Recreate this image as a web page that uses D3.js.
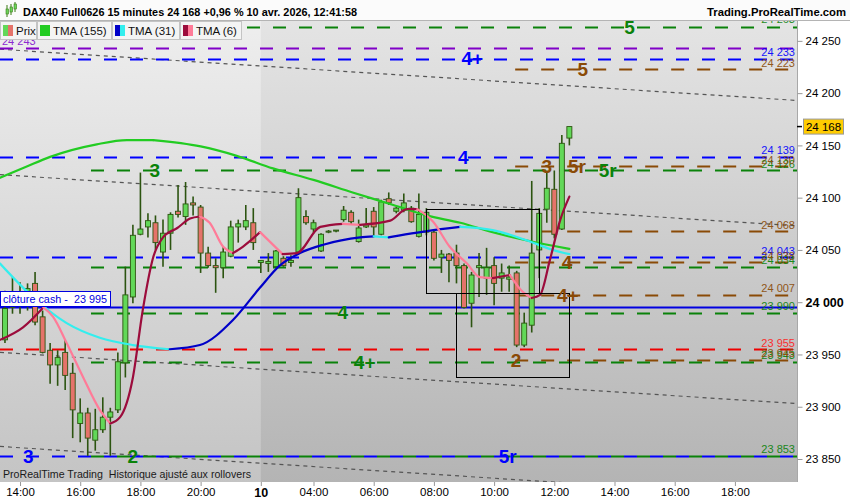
<!DOCTYPE html>
<html>
<head>
<meta charset="utf-8">
<script src="https://cdnjs.cloudflare.com/ajax/libs/d3/7.8.5/d3.min.js"></script>
<style>
  body { margin: 0; background: #fff; }
  svg { display: block; font-family: "Liberation Sans", Arial, sans-serif; }
</style>
</head>
<body>
<div class="chart"></div>
<script>
// 15 min bars, slot 0 = 14:00 on the 9th, overnight gap removed
const candleSlot = d3.range(-2, 74);
const open = [23964,23995,23998,24009,24018,23986,23954,23940,23952,23932,
  23884,23894,23868,23878,23890,23897,23942,24005,24065,24072,
  24076,24048,24066,24087,24082,24095,24091,24047,24035,24033,
  24044,24072,24072,24076,24038,24037,24034,24042,24038,24048,
  24082,24070,24049,24067,24068,24079,24086,24058,24072,24087,
  24065,24099,24087,24088,24090,24063,24067,24067,24043,24046,
  24047,24035,23999,24033,24023,24035,24023,24022,24028,23959,
  23978,24050,24089,24108,24070,24157];
const high = [24011,24024,24019,24018,24029,23992,23961,23954,23964,23942,
  23908,23899,23898,23909,23899,23952,24034,24074,24124,24085,
  24083,24079,24086,24112,24115,24101,24093,24053,24042,24053,
  24078,24079,24093,24090,24040,24047,24050,24044,24045,24109,
  24088,24079,24066,24069,24069,24092,24088,24079,24090,24091,
  24098,24105,24091,24104,24092,24104,24090,24069,24050,24047,
  24055,24037,24029,24047,24052,24043,24037,24035,24030,23990,
  24116,24090,24126,24126,24160,24168];
const low = [23961,23989,23989,23992,23978,23951,23922,23920,23916,23870,
  23866,23853,23858,23875,23853,23894,23928,23999,24064,24062,
  24050,24034,24050,24081,24074,24083,24028,24033,24009,24023,
  24043,24057,24069,24050,24028,24029,24033,24034,24034,24047,
  24074,24066,24048,24066,24067,24077,24074,24057,24071,24064,
  24064,24093,24085,24086,24076,24062,24064,24040,24028,24019,
  24018,23994,23976,24005,24007,23997,24010,24010,23957,23957,
  23971,24023,24076,24061,24069,24150];
const close = [23994,24005,24008,24013,23981,23952,23940,23947,23930,23897,
  23894,23870,23878,23890,23895,23943,24007,24064,24070,24078,
  24057,24066,24084,24084,24094,24093,24047,24035,24033,24048,
  24072,24075,24078,24057,24040,24039,24049,24035,24040,24100,
  24076,24076,24065,24068,24069,24088,24077,24071,24074,24072,
  24096,24095,24090,24095,24077,24084,24086,24042,24046,24040,
  24035,23995,24026,24035,24033,24018,24028,24024,23959,23980,
  24047,24085,24109,24065,24152,24168];

// moving averages (read at chosen slots)
const tma155Slot = [-2.66,0.66,4,10.2,14.2,17.7,24,28.8,33.6,39,44.2,49.6,54,58.5,62.8,67.4,73];
const tma155 = [24119,24129,24139,24151,24155,24155,24149,24140,24128,24117,24105,24093,24083,24076,24067,24059,24051];
const tma31Slot = [-2.66,1.7,6.2,10.6,15,19.9,23.9,28.3,31.9,34.5,37.2,40.3,45.2,47,49,50.5,54.1,58.5,62.8,67.4,70.8,73];
const tma31 = [24037,24005,23980,23966,23959,23955,23959,23983,24014,24035,24047,24055,24062,24063,24062,24064,24068,24072,24069,24059,24050,24046];
const tma6Slot = [-2.66,0.4,3.1,4.4,6.2,8.4,10.6,12,13.3,15,16.3,17.7,19,20.9,22.6,23.9,25.2,27,28.3,29.6,
  31.9,34.9,36.8,39.9,42.9,45.2,49.2,51.4,52.8,54.9,57.1,59.4,61.1,62.8,65.1,66.8,68,69.1,70.4,71.8,73];
const tma6 = [23964,23976,23995,23986,23961,23928,23897,23884,23890,23928,23992,24043,24062,24071,24080,24082,24076,24053,24047,24053,
  24067,24046,24047,24072,24075,24074,24078,24089,24089,24077,24053,24037,24024,24023,24026,24010,24004,24007,24040,24079,24101];

// horizontal levels
const greenLevels = [24263, 24126, 24034, 23990, 23943, 23853];
const blueLevels = [24233, 24139, 24043, 23853];
const brownLevels = [24223, 24130, 24068, 24038, 24007, 23945];
const purpleLevels = [24243];
const redLevels = [23955];
const cashClose = 23995;
const greenFrom = 9, brownFrom = 65.8;

// wave labels
const waveText = ["5","4+","5","4","3","3","5r","5r","4","4+","4","4+","2","3","2","5r"];
const waveKind = ["green","blue","brown","blue","green","brown","brown","green","brown","brown","green","green","brown","blue","green","blue"];
const waveSlot = [81,60.1,74.8,58.9,17.9,70,74,78.1,72.7,72.8,42.9,45.8,65.9,1.1,15,64.8];
const wavePrice = [24263,24233,24223,24139,24126,24130,24130,24126,24038,24007,23990,23943,23945,23853,23853,23853];

// channel lines (price at left edge and right edge)
const channelSlots = [-2.66, 103.25];
const channelStart = [24242, 24122, 23952, 23862];
const channelEnd = [24193, 24073, 23903, 23813];

// boxes
const boxFrom = [54, 58], boxTo = [69, 73];
const boxTop = [24089, 24009], boxBottom = [24009, 23929];

// axes
const xTickSlots = [0, 8, 16, 24, 32, 39, 47, 55, 63, 71, 79, 87, 95];
const xTickLabels = ["14:00","16:00","18:00","20:00","10","04:00","06:00","08:00","10:00","12:00","14:00","16:00","18:00"];
const yTicks = [23850, 23900, 23950, 24000, 24050, 24100, 24150, 24200, 24250];

const colors = {green: "#0a820a", blue: "#0000ff", brown: "#8a4a06", purple: "#8000c8", red: "#ee0000"};

const plotR = 797, plotT = 21, plotB = 482;
const x = d3.scaleLinear().domain([-2.66, 103.25]).range([0, plotR]);
const y = d3.scaleLinear().domain([23828, 24269]).range([plotB, plotT]);
const fmt = v => { const s = String(Math.round(v)); return s.slice(0, 2) + " " + s.slice(2); };

const svg = d3.select('.chart').append('svg')
  .attr('width', 850).attr('height', 500);
const defs = svg.append('defs');

function grad(id, c0, c1) {
  const g = defs.append('linearGradient').attr('id', id)
    .attr('x1', 0).attr('y1', 0).attr('x2', 0).attr('y2', 1);
  g.append('stop').attr('offset', '0%').attr('stop-color', c0);
  g.append('stop').attr('offset', '100%').attr('stop-color', c1);
}
grad('bgR', '#e4e4e4', '#b4b4b4');
grad('bgL', '#eeeeee', '#c4c4c4');
defs.append('clipPath').attr('id', 'clip')
  .append('rect').attr('x', 0).attr('y', plotT).attr('width', plotR).attr('height', plotB - plotT);

// title bar
svg.append('rect').attr('x', 0).attr('y', 0).attr('width', 850).attr('height', plotT).attr('fill', '#fbfbfb');
svg.append('line').attr('x1', 0).attr('x2', 850).attr('y1', 20.5).attr('y2', 20.5).attr('stroke', '#b4b4b4');
const icon = svg.append('g');
[[6, 9, 14, 5, 17], [10, 7, 12, 4, 15], [14, 4, 9, 2, 12]].forEach(c => {
  icon.append('line').attr('x1', c[0] + 1).attr('x2', c[0] + 1).attr('y1', c[3]).attr('y2', c[4]).attr('stroke', '#3a7a14');
  icon.append('rect').attr('x', c[0]).attr('y', c[1]).attr('width', 2.5).attr('height', c[2] - c[1])
    .attr('fill', '#6ad45a').attr('stroke', '#3a7a14').attr('stroke-width', 0.6);
});
svg.append('text').attr('x', 23).attr('y', 15.5)
  .attr('font-size', '11.5px').attr('font-weight', 'bold').attr('fill', '#000')
  .attr('textLength', 334).attr('lengthAdjust', 'spacingAndGlyphs')
  .text('DAX40 Full0626 15 minutes 24 168 +0,96 % 10 avr. 2026, 12:41:58');
svg.append('text').attr('x', 846).attr('y', 15.5).attr('text-anchor', 'end')
  .attr('font-size', '11.5px').attr('font-weight', 'bold').attr('fill', '#000')
  .attr('textLength', 139).attr('lengthAdjust', 'spacingAndGlyphs')
  .text('Trading.ProRealTime.com');

// plot background
svg.append('rect').attr('x', 0).attr('y', plotT).attr('width', plotR).attr('height', plotB - plotT).attr('fill', 'url(#bgR)');
svg.append('rect').attr('x', 0).attr('y', plotT).attr('width', x(32)).attr('height', plotB - plotT).attr('fill', 'url(#bgL)');

const g = svg.append('g').attr('clip-path', 'url(#clip)');

// channel lines
channelStart.forEach((p, i) => {
  g.append('line')
    .attr('x1', x(channelSlots[0])).attr('y1', y(p))
    .attr('x2', x(channelSlots[1])).attr('y2', y(channelEnd[i]))
    .attr('stroke', '#555').attr('stroke-width', 1.2).attr('stroke-dasharray', '4,4');
});

// level lines
const levels = [].concat(
  redLevels.map(v => ({v, kind: 'red', from: -2.66})),
  purpleLevels.map(v => ({v, kind: 'purple', from: -2.66})),
  brownLevels.map(v => ({v, kind: 'brown', from: brownFrom})),
  blueLevels.map(v => ({v, kind: 'blue', from: -2.66})),
  greenLevels.map(v => ({v, kind: 'green', from: greenFrom}))
);
g.selectAll('.level').data(levels).enter().append('line')
  .attr('class', 'level')
  .attr('x1', d => x(d.from)).attr('x2', plotR)
  .attr('y1', d => Math.round(y(d.v)) + 0.5).attr('y2', d => Math.round(y(d.v)) + 0.5)
  .attr('stroke', d => colors[d.kind]).attr('stroke-width', 2.2)
  .attr('stroke-dasharray', '13,13')
  .attr('stroke-dashoffset', d => d.kind === 'green' ? (((x(d.from) - 13) % 26) + 26) % 26 : 0);

// cash close
g.append('line').attr('x1', 0).attr('x2', plotR)
  .attr('y1', Math.round(y(cashClose)) + 0.5).attr('y2', Math.round(y(cashClose)) + 0.5)
  .attr('stroke', '#0000e0').attr('stroke-width', 2);

// candles
const bars = candleSlot.map((s, i) => ({s, o: open[i], h: high[i], l: low[i], c: close[i]}));
const cg = g.append('g');
cg.selectAll('.wick').data(bars).enter().append('line')
  .attr('x1', d => x(d.s)).attr('x2', d => x(d.s))
  .attr('y1', d => y(d.h)).attr('y2', d => y(d.l))
  .attr('stroke', '#2c5410').attr('stroke-width', 1.6);
cg.selectAll('.body').data(bars).enter().append('rect')
  .attr('x', d => x(d.s) - 2.5).attr('width', 5)
  .attr('y', d => y(Math.max(d.o, d.c)))
  .attr('height', d => Math.max(1, Math.abs(y(d.o) - y(d.c))))
  .attr('fill', d => d.c >= d.o ? '#62d858' : '#e5736a')
  .attr('stroke', '#2c5410').attr('stroke-width', 0.9);

// moving averages, coloured by direction
function runs(xs, vs) {
  const out = [];
  for (let i = 1; i < xs.length; i++) {
    const up = vs[i] >= vs[i - 1];
    const last = out[out.length - 1];
    if (last && last.up === up) last.pts.push([xs[i], vs[i]]);
    else out.push({up, pts: [[xs[i - 1], vs[i - 1]], [xs[i], vs[i]]]});
  }
  return out;
}
const line = d3.line().x(d => x(d[0])).y(d => y(d[1])).curve(d3.curveMonotoneX);
function drawMA(xs, vs, upColor, downColor) {
  runs(xs, vs).forEach(r => {
    g.append('path').attr('d', line(r.pts)).attr('fill', 'none')
      .attr('stroke', r.up ? upColor : downColor).attr('stroke-width', 2.2)
      .attr('stroke-linecap', 'round');
  });
}
drawMA(tma155Slot, tma155, '#22cc22', '#22cc22');
drawMA(tma31Slot, tma31, '#0000c8', '#33eeee');
drawMA(tma6Slot, tma6, '#9c0c3c', '#ff7b98');

// boxes
boxFrom.forEach((s, i) => {
  g.append('rect')
    .attr('x', Math.round(x(s)) + 0.5).attr('y', Math.round(y(boxTop[i])) + 0.5)
    .attr('width', Math.round(x(boxTo[i]) - x(s)))
    .attr('height', Math.round(y(boxBottom[i]) - y(boxTop[i])))
    .attr('fill', 'none').attr('stroke', '#000').attr('stroke-width', 1);
});

// right-side level values
const tags = [].concat(
  greenLevels.map(v => ({v, kind: 'green'})),
  blueLevels.slice(0, 3).map(v => ({v, kind: 'blue'})),
  brownLevels.map(v => ({v, kind: 'brown'})),
  redLevels.map(v => ({v, kind: 'red'}))
);
g.selectAll('.tag').data(tags).enter().append('text')
  .attr('x', 795).attr('y', d => y(d.v) - (d.v === greenLevels[0] ? 4 : 2.5))
  .attr('text-anchor', 'end').attr('font-size', '11px')
  .attr('fill', d => colors[d.kind] === '#ee0000' ? '#ff2020' : colors[d.kind])
  .attr('opacity', 0.9)
  .text(d => fmt(d.v));
g.append('text').attr('x', 2).attr('y', y(purpleLevels[0]) - 3)
  .attr('font-size', '11px').attr('fill', '#8c2ad0').text(fmt(purpleLevels[0]));

// wave labels
g.selectAll('.wave').data(waveText).enter().append('text')
  .attr('x', (d, i) => x(waveSlot[i])).attr('y', (d, i) => y(wavePrice[i]))
  .attr('dy', '0.36em').attr('text-anchor', 'middle')
  .attr('font-size', '19px').attr('font-weight', 'bold')
  .attr('fill', (d, i) => colors[waveKind[i]])
  .text(d => d);

// cash close tag
const cy = Math.round(y(cashClose));
svg.append('rect').attr('x', 0.5).attr('y', cy - 15.5).attr('width', 110).attr('height', 15)
  .attr('fill', '#fff').attr('stroke', '#0000e0').attr('stroke-width', 1);
svg.append('text').attr('x', 3).attr('y', cy - 4).attr('font-size', '11.5px').attr('fill', '#0000e0')
  .style('white-space', 'pre').attr('textLength', 104).attr('lengthAdjust', 'spacingAndGlyphs')
  .text('clôture cash -  ' + fmt(cashClose));

// footer text
svg.append('text').attr('x', 3).attr('y', 477.5).attr('font-size', '11.5px').attr('fill', '#1a1a1a')
  .style('white-space', 'pre').attr('textLength', 248).attr('lengthAdjust', 'spacingAndGlyphs')
  .text('ProRealTime Trading  Historique ajusté aux rollovers');

// legend
const legendNames = ["Prix", "TMA (155)", "TMA (31)", "TMA (6)"];
const legendSwatch = [["#62d858", "#e5736a"], ["#22cc22", "#22cc22"], ["#0000c8", "#33eeee"], ["#9c0c3c", "#ff7b98"]];
const legendEdges = [0, 37, 112, 180, 242];
legendNames.forEach((n, i) => {
  const x0 = legendEdges[i], x1 = legendEdges[i + 1];
  svg.append('rect').attr('x', x0 + 0.5).attr('y', plotT + 0.5).attr('width', x1 - x0 - 1).attr('height', 18)
    .attr('fill', '#f4f4f4').attr('stroke', '#c4c4c4');
  svg.append('rect').attr('x', x0 + 3).attr('y', plotT + 4).attr('width', 5).attr('height', 11).attr('fill', legendSwatch[i][0]);
  svg.append('rect').attr('x', x0 + 8).attr('y', plotT + 4).attr('width', 5).attr('height', 11).attr('fill', legendSwatch[i][1]);
  svg.append('text').attr('x', x0 + 16).attr('y', plotT + 13.5).attr('font-size', '11.5px').attr('fill', '#111').text(n);
});

// right axis
svg.append('rect').attr('x', plotR).attr('y', plotT).attr('width', 850 - plotR).attr('height', 500 - plotT).attr('fill', '#fff');
svg.append('line').attr('x1', plotR + 0.5).attr('x2', plotR + 0.5).attr('y1', plotT).attr('y2', plotB)
  .attr('stroke', '#a8a8a8');
const yAxis = d3.axisRight(y).tickValues(yTicks).tickFormat(fmt).tickSize(5).tickPadding(3);
const ya = svg.append('g').attr('transform', `translate(${plotR + 0.5},0)`).call(yAxis);
ya.select('.domain').remove();
ya.selectAll('line').attr('stroke', '#999');
ya.selectAll('text').attr('fill', '#000')
  .attr('font-weight', d => d === 24000 ? 'bold' : null)
  .attr('font-size', d => d === 24000 ? '12.5px' : '11.5px');

// last price tag
const last = close[close.length - 1];
svg.append('line').attr('x1', plotR).attr('x2', plotR + 5).attr('y1', y(last)).attr('y2', y(last))
  .attr('stroke', '#000').attr('stroke-width', 1.5);
svg.append('rect').attr('x', plotR + 6.5).attr('y', y(last) - 7.5).attr('width', 40).attr('height', 15)
  .attr('fill', '#ffcc00').attr('stroke', '#999');
svg.append('text').attr('x', plotR + 26.5).attr('y', y(last)).attr('dy', '0.35em')
  .attr('text-anchor', 'middle').attr('font-size', '11.5px').attr('fill', '#000').text(fmt(last));

// bottom axis
svg.append('rect').attr('x', 0).attr('y', plotB).attr('width', plotR).attr('height', 500 - plotB).attr('fill', '#fff');
const xAxis = d3.axisBottom(x).tickValues(xTickSlots).tickFormat((d, i) => xTickLabels[i]).tickSize(4).tickPadding(2);
const xa = svg.append('g').attr('transform', `translate(0,${plotB})`).call(xAxis);
xa.select('.domain').remove();
xa.selectAll('line').attr('stroke', '#999');
xa.selectAll('text').attr('fill', '#000')
  .attr('font-size', (d, i) => xTickLabels[i] === '10' ? '12.5px' : '11.5px')
  .attr('font-weight', (d, i) => xTickLabels[i] === '10' ? 'bold' : null);
</script>
</body>
</html>
